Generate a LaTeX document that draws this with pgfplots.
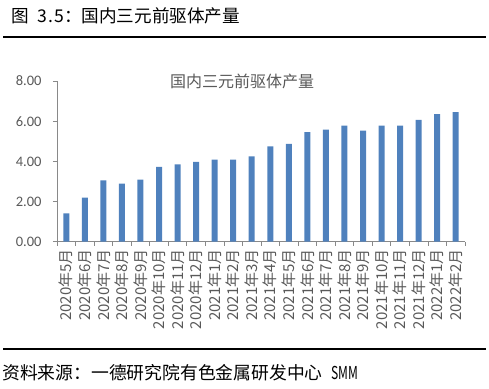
\documentclass[border=0pt]{standalone}
\usepackage{fontspec}
\usepackage{graphicx}
\setmainfont{Carlito}
\newfontfamily\cjk{Noto Sans CJK SC}
\usepackage{pgfplots}
\pgfplotsset{compat=1.18}
\definecolor{barblue}{HTML}{4F81BD}
\definecolor{txtgray}{HTML}{595959}
\definecolor{axgray}{HTML}{898989}
\newcommand{\hw}[1]{\makebox[0.5em][c]{#1}}
\begin{document}
\begin{tikzpicture}[x=1pt,y=1pt]
\path (0,0) rectangle (489,388);
\draw[line width=1.8pt] (3,351) -- (486,351);
\draw[line width=1.8pt] (3,39) -- (486,39);
\node[anchor=west, inner sep=0pt, font=\cjk\fontsize{17.6}{20}\selectfont] at (11,372) {图\hw{ }\hw{3}\hw{.}\hw{5}：国内三元前驱体产量};
\node[anchor=west, inner sep=0pt, font=\cjk\fontsize{17.8}{20}\selectfont] at (2,15) {资料来源：一德研究院有色金属研发中心\hw{ }\makebox[1.6em][l]{\scalebox{0.68}[1]{SMM}}};
\begin{axis}[
  at={(57pt,146.3pt)}, anchor=south west,
  width=408pt, height=160.7pt, scale only axis,
  xmin=-0.5, xmax=21.5, ymin=0, ymax=8,
  axis x line=bottom, axis y line=left,
  axis line style={axgray, line width=0.8pt, -},
  tick align=outside,
  xtick={0,...,21},
  major x tick style={draw=none},
  minor xtick={-0.5,0.5,...,21.5},
  minor x tick style={axgray, line width=0.8pt},
  minor tick length=4pt,
  ytick={0,2,4,6,8},
  major tick length=4pt,
  y tick style={axgray, line width=0.8pt},
  xticklabels={2020年5月,2020年6月,2020年7月,2020年8月,2020年9月,2020年10月,2020年11月,2020年12月,2021年1月,2021年2月,2021年3月,2021年4月,2021年5月,2021年6月,2021年7月,2021年8月,2021年9月,2021年10月,2021年11月,2021年12月,2022年1月,2022年2月},
  xticklabel style={rotate=90, anchor=east, font=\cjk\fontsize{15}{17}\selectfont, text=txtgray},
  yticklabel style={font=\fontsize{14.5}{16}\selectfont, text=txtgray, xshift=-8pt},
  /pgf/number format/assume math mode=true,
  yticklabel={\pgfmathprintnumber[fixed, fixed zerofill, precision=2]{\tick}},
  ybar, bar width=6pt,
  clip=false,
]
\addplot[fill=barblue, draw=none] coordinates {
(0,1.41) (1,2.19) (2,3.05) (3,2.89) (4,3.09) (5,3.72) (6,3.85) (7,3.97) (8,4.08) (9,4.08) (10,4.25)
(11,4.75) (12,4.87) (13,5.45) (14,5.58) (15,5.78) (16,5.53) (17,5.78) (18,5.78) (19,6.07) (20,6.35) (21,6.45)};
\end{axis}
\node[font=\cjk\fontsize{16}{18}\selectfont, text=txtgray] at (242,307) {国内三元前驱体产量};
\end{tikzpicture}
\end{document}
